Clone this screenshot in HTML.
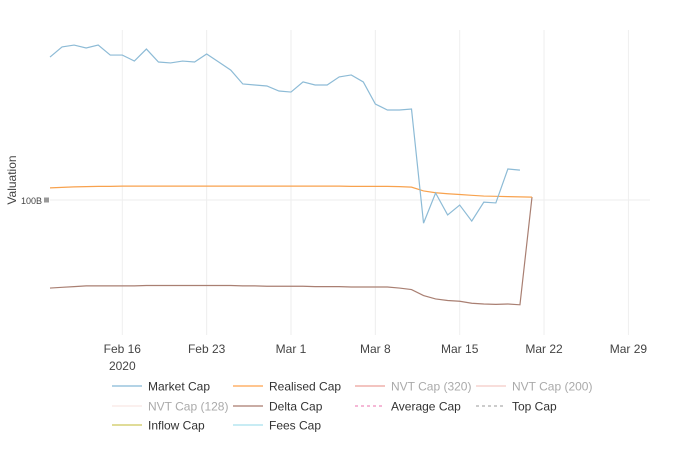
<!DOCTYPE html>
<html><head><meta charset="utf-8"><style>
body{margin:0;background:#fff;font-family:"Liberation Sans",sans-serif}
svg text{font-family:"Liberation Sans",sans-serif}
</style></head><body>
<svg id="chart" width="700" height="450">
<g id="grid"></g>
<g id="series"></g>
<g id="axes"></g>
<text transform="translate(16,180) rotate(-90)" text-anchor="middle" font-size="12" fill="#444">Valuation</text>
<g id="legend"></g>
</svg>
<script>
const startDate = [2020,1,10];
const marketCap = [172.0,178.7,180.0,178.0,180.0,173.3,173.3,169.4,177.3,168.8,168.2,169.4,168.8,174.0,168.8,163.7,155.3,154.7,154.1,151.2,150.6,156.5,154.7,154.7,159.5,160.7,156.5,143.9,140.7,140.7,141.2,91.6,102.7,94.5,98.1,92.3,99.2,98.9,112.5,112.0];
const realisedCap = [104.7,104.9,105.1,105.2,105.3,105.3,105.4,105.4,105.4,105.4,105.4,105.4,105.4,105.4,105.4,105.4,105.4,105.4,105.4,105.4,105.4,105.4,105.4,105.4,105.4,105.3,105.3,105.3,105.3,105.2,105.0,103.5,102.8,102.4,102.1,101.8,101.5,101.4,101.3,101.2,101.1];
const deltaCap = [71.6,71.8,72.0,72.2,72.2,72.2,72.2,72.2,72.3,72.3,72.3,72.3,72.3,72.3,72.3,72.3,72.2,72.2,72.1,72.1,72.1,72.1,72.0,72.0,72.0,71.9,71.9,71.9,71.9,71.6,71.2,69.6,68.7,68.3,68.1,67.6,67.4,67.3,67.4,67.2,101.1];
const xTicks = ["Feb 16","Feb 23","Mar 1","Mar 8","Mar 15","Mar 22","Mar 29"];
const xTickDays = [6,13,20,27,34,41,48];
const yTickVals = [100];
const yTickLabels = ["100B"];

const NS="http://www.w3.org/2000/svg";
const x0=50, pxDay=12.05, yRef=200, pxDecade=607;
const X=d=>x0+d*pxDay;
const Y=v=>yRef-Math.log10(v/100)*pxDecade;
function mk(tag,attrs,parent){const e=document.createElementNS(NS,tag);for(const k in attrs)e.setAttribute(k,attrs[k]);parent.appendChild(e);return e;}
const grid=document.getElementById('grid'),axes=document.getElementById('axes'),ser=document.getElementById('series'),leg=document.getElementById('legend');
xTickDays.forEach((d,i)=>{
  const l=mk('line',{x1:X(d),x2:X(d),y1:30,y2:335,stroke:'#eee','stroke-width':1},grid);
  
  
  const t=mk('text',{x:X(d),y:353,'text-anchor':'middle','font-size':12,fill:'#444'},axes);
  t.textContent=xTicks[i];
  
  
});
const yr=mk('text',{x:X(xTickDays[0]),y:370,'text-anchor':'middle','font-size':12,fill:'#444'},axes);
yr.textContent='2020';


yTickVals.forEach((v,i)=>{
  const l=mk('line',{x1:50,x2:650,y1:Y(v),y2:Y(v),stroke:'#eee','stroke-width':1},grid);
  
  
  const r=mk('rect',{x:44,y:Y(v)-2.5,width:5,height:5,fill:'#999'},axes);
  
  
  const t=mk('text',{x:42,y:Y(v)+4,'text-anchor':'end','font-size':9,fill:'#444'},axes);
  t.textContent=yTickLabels[i];
  
  
});
function line(arr,color,name){
  const p=mk('polyline',{points:arr.map((v,i)=>X(i)+','+Y(v)).join(' '),fill:'none',stroke:color,'stroke-width':1.2},ser);
  
  
}
line(deltaCap,'#a97f72','delta-cap-line');
line(realisedCap,'#f8a24e','realised-cap-line');
line(marketCap,'#8dbbd6','market-cap-line');
const items=[["Market Cap","#b3d3e6",0,"#333"],["Realised Cap","#ffc58f",0,"#333"],["NVT Cap (320)","#f3c4c0",0,"#aaa"],["NVT Cap (200)","#f8dedb",0,"#aaa"],
["NVT Cap (128)","#fbf0ee",0,"#aaa"],["Delta Cap","#c9aca4",0,"#333"],["Average Cap","#f5b8d6",1,"#333"],["Top Cap","#ccc",1,"#333"],
["Inflow Cap","#e0dc98",0,"#333"],["Fees Cap","#c8ecf4",0,"#333"]];
const colX=[112,233,355,476], rowY=[386,406,425];
items.forEach((it,i)=>{
  const cx=colX[i%4], cy=rowY[Math.floor(i/4)];
  const g=mk('g',{},leg);
  
  
  const l=mk('line',{x1:cx,x2:cx+30,y1:cy,y2:cy,stroke:it[1],'stroke-width':2},g);
  if(it[2])l.setAttribute('stroke-dasharray','3,3');
  const t=mk('text',{x:cx+36,y:cy+4.5,'font-size':12,fill:it[3]},g);
  t.textContent=it[0];
});
</script>
</body></html>
